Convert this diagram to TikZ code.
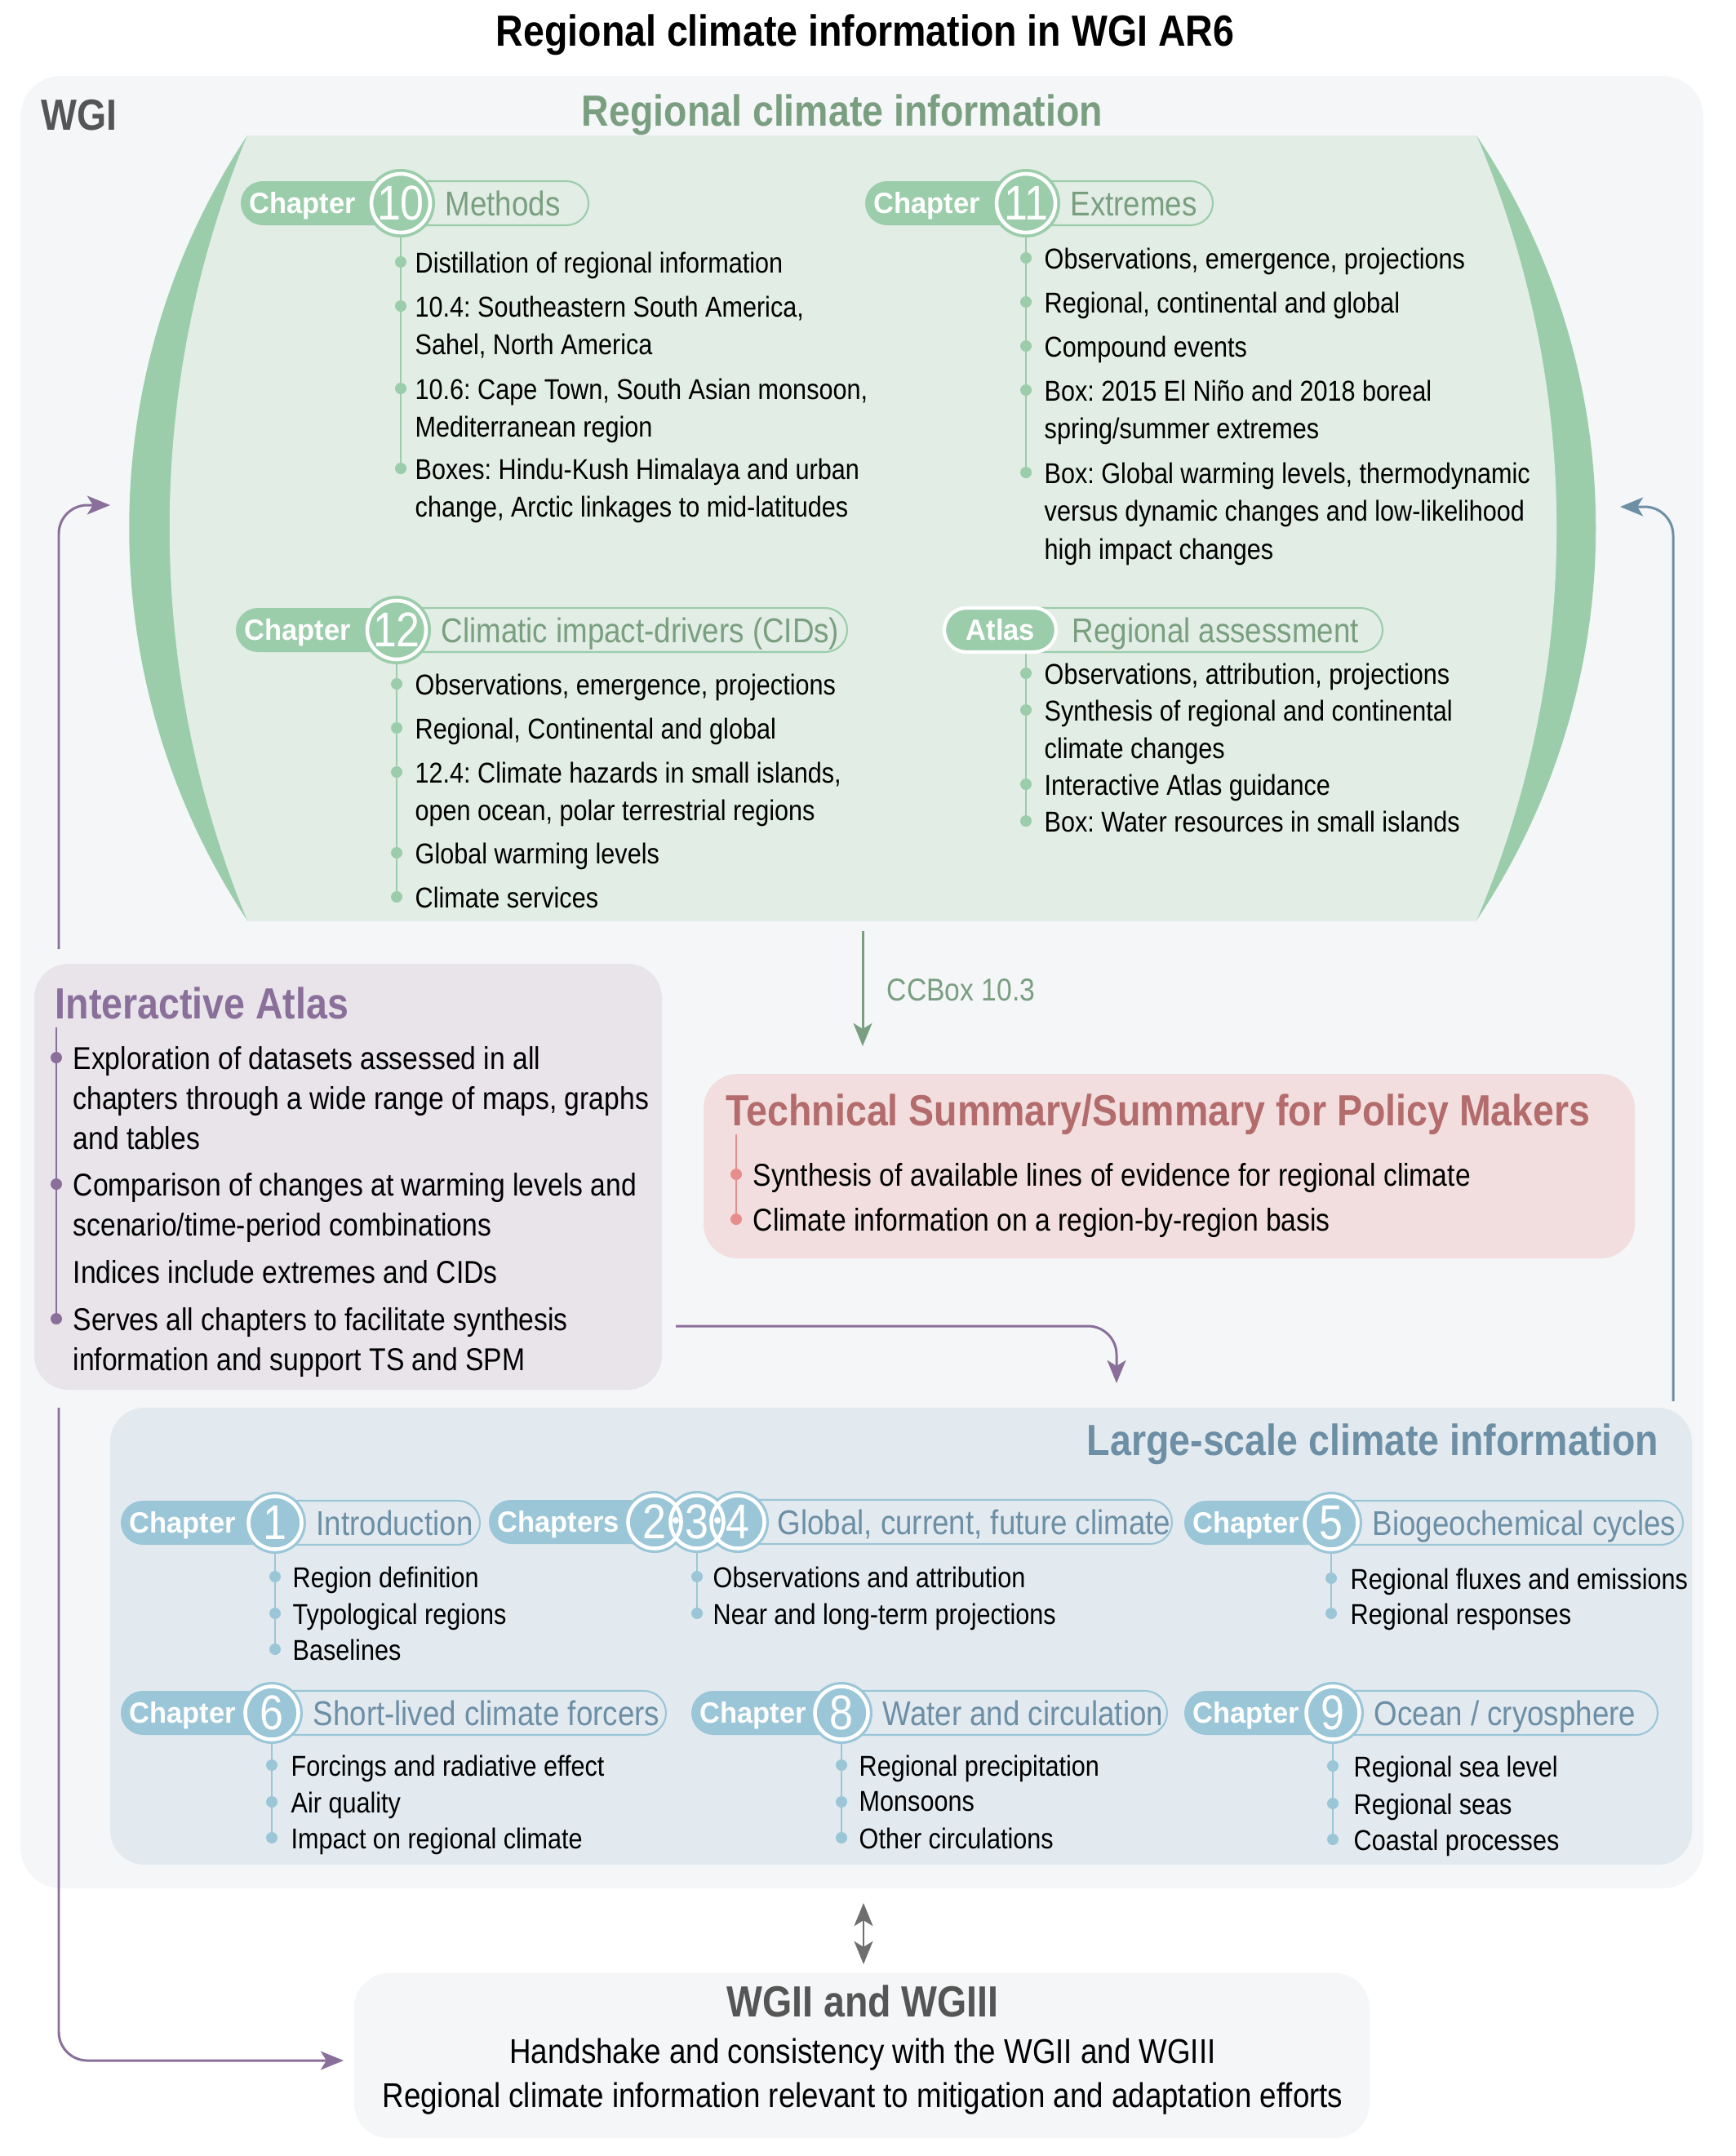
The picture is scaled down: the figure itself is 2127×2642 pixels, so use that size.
\documentclass[tikz,border=0pt]{standalone}
\usepackage{fontspec}
\setmainfont{Liberation Sans}
\newfontfamily\narrow[FakeStretch=0.87]{Liberation Sans}
\newfontfamily\chapfont[FakeStretch=0.96]{Liberation Sans}
\usetikzlibrary{arrows.meta}
\frenchspacing

\definecolor{wgibg}{HTML}{F4F6F8}
\definecolor{wgtext}{HTML}{555555}
\definecolor{rcilight}{HTML}{E1EDE5}
\definecolor{rcidark}{HTML}{9BCDAB}
\definecolor{rcitext}{HTML}{7A9F80}
\definecolor{iabg}{HTML}{E8E4EA}
\definecolor{iatext}{HTML}{8A6F9A}
\definecolor{tsbg}{HTML}{F2DEDE}
\definecolor{tstext}{HTML}{B36B6B}
\definecolor{tsdot}{HTML}{E88D8D}
\definecolor{lsbg}{HTML}{E2EAF0}
\definecolor{lsdark}{HTML}{9AC6D8}
\definecolor{lstext}{HTML}{6C8FA5}

\tikzset{
  heading/.style={font=\narrow\bfseries\fontsize{15.2}{18}\selectfont, inner sep=0},
  item/.style={font=\narrow\fontsize{10}{13.3}\selectfont, align=left, anchor=north west, inner sep=0},
  bigitem/.style={font=\narrow\fontsize{11}{13.9}\selectfont, align=left, anchor=north west, inner sep=0},
  chaplabel/.style={font=\chapfont\bfseries\fontsize{10.2}{12}\selectfont, text=white, anchor=base west, inner sep=0},
  chapnum/.style={font=\narrow\fontsize{17}{17}\selectfont, text=white, inner sep=0},
  chapsub/.style={font=\narrow\fontsize{12}{14}\selectfont, anchor=base west, inner sep=0},
  spine/.style={line width=0.8pt},
  flow/.style={line width=0.85pt, rounded corners=0.35cm, -{Stealth[length=8pt,width=6.5pt,inset=2pt]}},
}

% disc and ring radii of the numbered discs
\newcommand{\discr}{42}
\newcommand{\ringr}{36}

% #1 name, #2 pill left, #3 disc x, #4 y, #5 pill end, #6 colour set, #7 label, #8 number, #9 subtitle
\newcommand{\chapterhead}[9]{%
  \draw[#6dark, line width=0.6pt, rounded corners=0.27cm] (#3,#4-27) rectangle (#5,#4+27);
  \fill[#6dark, rounded corners=0.27cm] (#2,#4-27) rectangle (#3,#4+27);
  \fill[#6dark] (#3,#4) circle[radius=\discr];
  \draw[white, line width=1.3pt] (#3,#4) circle[radius=\ringr];
  \node[chapnum] (#1) at (#3,#4) {#8};
  \node[chaplabel] (#1label) at (#2+10,#4+12) {#7};
  \node[chapsub, text=#6text] (#1sub) at (#3+\discr+12,#4+15) {#9};
}

\begin{document}
\begin{tikzpicture}[x=0.01cm, y=-0.01cm]
\useasboundingbox (0,0) rectangle (2127,2642);

\node[heading, anchor=base, text=black] (title) at (1060,56) {Regional climate information in WGI AR6};

% WGI frame
\fill[wgibg, rounded corners=0.5cm] (25,93) rectangle (2087,2314);
\node[heading, anchor=base west, text=wgtext] (wgi) at (50,159) {WGI};
\node[heading, anchor=base, text=rcitext] (rcititle) at (1032,154) {Regional climate information};

% regional lens
\fill[rcidark] (303,166) .. controls (110,457) and (110,837) .. (303,1128) -- (1809,1128)
  .. controls (2004,837) and (2004,457) .. (1809,166) -- cycle;
\fill[rcilight] (303,166) .. controls (176,474) and (176,820) .. (303,1128) -- (1809,1128)
  .. controls (1940,821) and (1940,473) .. (1809,166) -- cycle;

% chapter 10
\coordinate (ch10top) at (491,249);
\coordinate (ch10end) at (491,574);
\draw[rcidark, spine] (ch10top) -- (ch10end);
\foreach \y in {321,375,476,574} \fill[rcidark] (491,\y) circle[radius=7];
\chapterhead{ch10}{295}{491}{249}{721}{rci}{Chapter}{10}{Methods}
\node[item] (ch10a) at (508,308) {Distillation of regional information};
\node[item] (ch10b) at (508,362) {10.4: Southeastern South America,\\Sahel, North America};
\node[item] (ch10c) at (508,463) {10.6: Cape Town, South Asian monsoon,\\Mediterranean region};
\node[item] (ch10d) at (508,561) {Boxes: Hindu-Kush Himalaya and urban\\change, Arctic linkages to mid-latitudes};

% chapter 11
\coordinate (ch11top) at (1257,249);
\coordinate (ch11end) at (1257,579);
\draw[rcidark, spine] (ch11top) -- (ch11end);
\foreach \y in {316,370,424,478,579} \fill[rcidark] (1257,\y) circle[radius=7];
\chapterhead{ch11}{1060}{1257}{249}{1486}{rci}{Chapter}{11}{Extremes}
\node[item] (ch11a) at (1279,303) {Observations, emergence, projections};
\node[item] (ch11b) at (1279,357) {Regional, continental and global};
\node[item] (ch11c) at (1279,411) {Compound events};
\node[item] (ch11d) at (1279,465) {Box: 2015 El Niño and 2018 boreal\\spring/summer extremes};
\node[item] (ch11e) at (1279,566) {Box: Global warming levels, thermodynamic\\versus dynamic changes and low-likelihood\\high impact changes};

% chapter 12
\coordinate (ch12top) at (486,772);
\coordinate (ch12end) at (486,1099);
\draw[rcidark, spine] (ch12top) -- (ch12end);
\foreach \y in {838,892,946,1045,1099} \fill[rcidark] (486,\y) circle[radius=7];
\chapterhead{ch12}{289}{486}{772}{1038}{rci}{Chapter}{12}{Climatic impact-drivers (CIDs)}
\node[item] (ch12a) at (508,825) {Observations, emergence, projections};
\node[item] (ch12b) at (508,879) {Regional, Continental and global};
\node[item] (ch12c) at (508,933) {12.4: Climate hazards in small islands,\\open ocean, polar terrestrial regions};
\node[item] (ch12d) at (508,1032) {Global warming levels};
\node[item] (ch12e) at (508,1086) {Climate services};

% atlas
\coordinate (atlastop) at (1257,772);
\coordinate (atlasend) at (1257,1006);
\draw[rcidark, spine] (atlastop) -- (atlasend);
\foreach \y in {825,870,961,1006} \fill[rcidark] (1257,\y) circle[radius=7];
\draw[rcidark, line width=0.6pt, rounded corners=0.27cm] (1230,745) rectangle (1694,799);
\draw[white, fill=rcidark, line width=1.2pt, rounded corners=0.27cm] (1157,745) rectangle (1294,799);
\node[chaplabel, anchor=base] (atlaslabel) at (1226,784) {Atlas};
\node[chapsub, text=rcitext] (atlassub) at (1313,787) {Regional assessment};
\node[item] (atlasa) at (1279,812) {Observations, attribution, projections};
\node[item] (atlasb) at (1279,857) {Synthesis of regional and continental\\climate changes};
\node[item] (atlasc) at (1279,948) {Interactive Atlas guidance};
\node[item] (atlasd) at (1279,993) {Box: Water resources in small islands};

% interactive atlas
\fill[iabg, rounded corners=0.42cm] (42,1181) rectangle (811,1703);
\node[heading, anchor=base west, text=iatext] (iatitle) at (67,1248) {Interactive Atlas};
\coordinate (iatop) at (69,1259);
\coordinate (iaend) at (69,1616);
\draw[iatext, spine] (iatop) -- (iaend);
\foreach \y in {1296,1451,1616} \fill[iatext] (69,\y) circle[radius=7];
\node[bigitem] (iaa) at (89,1282) {Exploration of datasets assessed in all\\chapters through a wide range of maps, graphs\\and tables};
\node[bigitem] (iab) at (89,1437) {Comparison of changes at warming levels and\\scenario/time-period combinations};
\node[bigitem] (iac) at (89,1544) {Indices include extremes and CIDs};
\node[bigitem] (iad) at (89,1602) {Serves all chapters to facilitate synthesis\\information and support TS and SPM};

% technical summary
\fill[tsbg, rounded corners=0.42cm] (862,1316) rectangle (2003,1542);
\node[heading, anchor=base west, text=tstext] (tstitle) at (889,1379) {Technical Summary/Summary for Policy Makers};
\coordinate (tstop) at (902,1390);
\coordinate (tsend) at (902,1494);
\draw[tsdot, spine] (tstop) -- (tsend);
\foreach \y in {1439,1494} \fill[tsdot] (902,\y) circle[radius=7];
\node[bigitem] (tsa) at (922,1425) {Synthesis of available lines of evidence for regional climate};
\node[bigitem] (tsb) at (922,1480) {Climate information on a region-by-region basis};

% large-scale
\fill[lsbg, rounded corners=0.42cm] (135,1725) rectangle (2073,2285);
\node[heading, anchor=base east, text=lstext] (lstitle) at (2033,1783) {Large-scale climate information};
\renewcommand{\discr}{38}
\renewcommand{\ringr}{32.5}

% chapter 1
\coordinate (ch1top) at (337,1866);
\coordinate (ch1end) at (337,2021);
\draw[lsdark, spine] (ch1top) -- (ch1end);
\foreach \y in {1932,1977,2021} \fill[lsdark] (337,\y) circle[radius=7];
\chapterhead{ch1}{148}{337}{1866}{588}{ls}{Chapter}{1}{Introduction}
\node[item] (ch1a) at (358,1919) {Region definition};
\node[item] (ch1b) at (358,1964) {Typological regions};
\node[item] (ch1c) at (358,2008) {Baselines};

% chapters 2, 3, 4
\coordinate (ch234top) at (854,1865);
\coordinate (ch234end) at (854,1977);
\draw[lsdark, spine] (ch234top) -- (ch234end);
\foreach \y in {1932,1977} \fill[lsdark] (854,\y) circle[radius=7];
\draw[lsdark, line width=0.6pt, rounded corners=0.27cm] (880,1838) rectangle (1436,1892);
\fill[lsdark, rounded corners=0.27cm] (599,1838) rectangle (802,1892);
\foreach \cx in {802,854,904} \fill[lsdark] (\cx,1865) circle[radius=\discr];
\foreach \cx in {802,854,904} \draw[white, line width=1.3pt] (\cx,1865) circle[radius=\ringr];
\foreach \cx in {828,879} \fill[white] (\cx,1863) circle[radius=4];
\node[chapnum] (ch2) at (802,1865) {2};
\node[chapnum] (ch3) at (854,1865) {3};
\node[chapnum] (ch4) at (904,1865) {4};
\node[chaplabel] (ch234label) at (609,1877) {Chapters};
\node[chapsub, text=lstext] (ch234sub) at (952,1880) {Global, current, future climate};
\node[item] (ch234a) at (873,1919) {Observations and attribution};
\node[item] (ch234b) at (873,1964) {Near and long-term projections};

% chapter 5
\coordinate (ch5top) at (1631,1866);
\coordinate (ch5end) at (1631,1977);
\draw[lsdark, spine] (ch5top) -- (ch5end);
\foreach \y in {1934,1977} \fill[lsdark] (1631,\y) circle[radius=7];
\chapterhead{ch5}{1451}{1631}{1866}{2062}{ls}{Chapter}{5}{Biogeochemical cycles}
\node[item] (ch5a) at (1654,1921) {Regional fluxes and emissions};
\node[item] (ch5b) at (1654,1964) {Regional responses};

% chapter 6
\coordinate (ch6top) at (333,2099);
\coordinate (ch6end) at (333,2252);
\draw[lsdark, spine] (ch6top) -- (ch6end);
\foreach \y in {2163,2208,2252} \fill[lsdark] (333,\y) circle[radius=7];
\chapterhead{ch6}{148}{333}{2099}{816}{ls}{Chapter}{6}{Short-lived climate forcers}
\node[item] (ch6a) at (356,2150) {Forcings and radiative effect};
\node[item] (ch6b) at (356,2195) {Air quality};
\node[item] (ch6c) at (356,2239) {Impact on regional climate};

% chapter 8
\coordinate (ch8top) at (1031,2099);
\coordinate (ch8end) at (1031,2252);
\draw[lsdark, spine] (ch8top) -- (ch8end);
\foreach \y in {2163,2208,2252} \fill[lsdark] (1031,\y) circle[radius=7];
\chapterhead{ch8}{847}{1031}{2099}{1430}{ls}{Chapter}{8}{Water and circulation}
\node[item] (ch8a) at (1052,2150) {Regional precipitation};
\node[item] (ch8b) at (1052,2195) {Monsoons};
\node[item] (ch8c) at (1052,2239) {Other circulations};

% chapter 9
\coordinate (ch9top) at (1633,2099);
\coordinate (ch9end) at (1633,2254);
\draw[lsdark, spine] (ch9top) -- (ch9end);
\foreach \y in {2164,2210,2254} \fill[lsdark] (1633,\y) circle[radius=7];
\chapterhead{ch9}{1451}{1633}{2099}{2031}{ls}{Chapter}{9}{Ocean / cryosphere}
\node[item] (ch9a) at (1658,2151) {Regional sea level};
\node[item] (ch9b) at (1658,2197) {Regional seas};
\node[item] (ch9c) at (1658,2241) {Coastal processes};

% WGII and WGIII
\fill[wgibg, rounded corners=0.42cm] (434,2418) rectangle (1678,2620);
\node[heading, anchor=base, text=wgtext] (wgiititle) at (1057,2471) {WGII and WGIII};
\node[font=\narrow\fontsize{12}{14}\selectfont, anchor=base, inner sep=0] (wgiia) at (1057,2528) {Handshake and consistency with the WGII and WGIII};
\node[font=\narrow\fontsize{12}{14}\selectfont, anchor=base, inner sep=0] (wgiib) at (1057,2582) {Regional climate information relevant to mitigation and adaptation efforts};

% connectors
\coordinate (rcibottom) at (1057,1141);
\coordinate (tsarrive) at (1057,1282);
\draw[flow, rcitext] (rcibottom) -- (tsarrive);
\node[font=\narrow\fontsize{11}{13}\selectfont, text=rcitext, anchor=base west, inner sep=0] (ccbox) at (1086,1226) {CCBox 10.3};

\coordinate (iaup) at (72,1163);
\coordinate (rcileft) at (135,619);
\draw[flow, iatext] (iaup) |- (rcileft);
\coordinate (iadown) at (72,1725);
\coordinate (wgiileft) at (421,2525);
\draw[flow, iatext] (iadown) |- (wgiileft);
\coordinate (iaright) at (828,1625);
\coordinate (lsarrive) at (1368,1695);
\draw[flow, iatext] (iaright) -| (lsarrive);
\coordinate (lsup) at (2050,1717);
\coordinate (rciright) at (1985,621);
\draw[flow, lstext] (lsup) |- (rciright);

\coordinate (wgibottom) at (1058,2332);
\coordinate (wgiitop) at (1058,2407);
\draw[wgtext!85, line width=0.8pt, {Stealth[length=8pt,width=6.5pt,inset=2pt]}-{Stealth[length=8pt,width=6.5pt,inset=2pt]}] (wgibottom) -- (wgiitop);
\end{tikzpicture}
\end{document}
